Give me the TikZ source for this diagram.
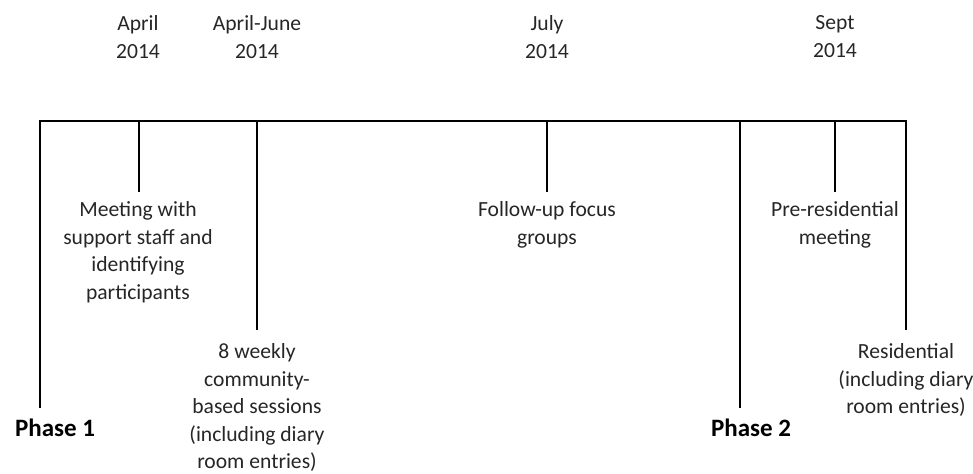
\documentclass[tikz,border=0pt]{standalone}
\usepackage{fontspec}
\setmainfont{Carlito}

\begin{document}
\begin{tikzpicture}[x=0.5pt,y=-0.5pt,line width=0.8pt]
    \tikzstyle{date}=[align=center,anchor=north,inner sep=0pt,text=black!85,font=\fontsize{10.8}{13.7}\selectfont]
    \tikzstyle{event}=[date]
    \tikzstyle{phase}=[anchor=north,inner sep=0pt,font=\bfseries\fontsize{12.5}{15}\selectfont]
    \useasboundingbox (0,0) rectangle (973,473);

    \foreach \name/\x in {p1/40, meet/139, weekly/257, focus/547, p2/740, pre/835, resid/906}
        \coordinate (T-\name) at (\x,121);

    \foreach \name/\x/\when in {meet/138/{April\\2014}, weekly/257/{April-June\\2014},
            focus/547/{July\\2014}, pre/835/{Sept\\2014}}
        \node[date] (D-\name) at (\x,15) {\when};

    \foreach \name/\x/\y/\what in {meet/138/201/{Meeting with\\support staff and\\identifying\\participants},
            focus/547/201/{Follow-up focus\\groups}, pre/835/201/{Pre-residential\\meeting},
            weekly/257/343/{8 weekly\\community-\\based sessions\\(including diary\\room entries)},
            resid/906/343/{Residential\\(including diary\\room entries)}}
        \node[event] (E-\name) at (\x,\y) {\what};

    \foreach \name/\gap in {meet/4.5pt, weekly/6.5pt, focus/4.5pt, pre/4.5pt}
        \draw[shorten >=\gap] (T-\name) -- (T-\name |- E-\name.north);

    \node[phase] (P-1) at (55,418) {Phase 1};
    \node[phase] (P-2) at (751,418) {Phase 2};

    % timeline with the two end ticks
    \draw ([yshift=5pt]T-p1 |- P-1.north) -- (T-p1) -- (T-resid) -- ([yshift=6.5pt]T-resid |- E-resid.north);
    \draw[shorten >=5pt] (T-p2) -- (T-p2 |- P-2.north);
\end{tikzpicture}
\end{document}
